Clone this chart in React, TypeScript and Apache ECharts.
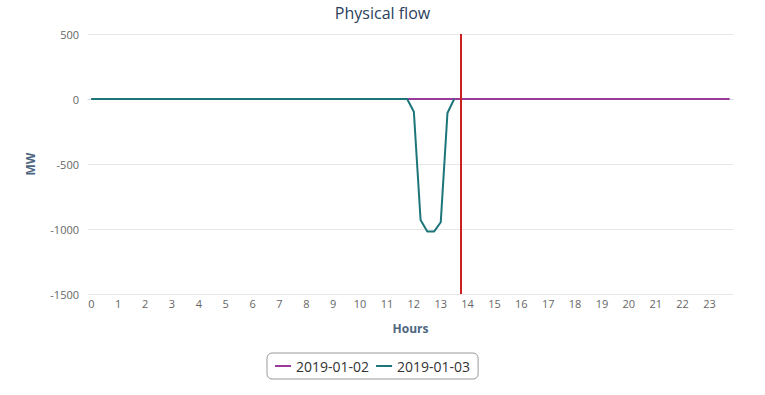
import React, { useEffect, useRef } from "react";
import * as echarts from "echarts";

const title = "Physical flow";
const yName = "MW";
const xName = "Hours";
const seriesNames = ["2019-01-02", "2019-01-03"];

// 96 quarter-hour categories: "0:00" ... "23:45"
const categories: string[] = [];
for (let h = 0; h < 24; h++) {
  for (const m of ["00", "15", "30", "45"]) categories.push(`${h}:${m}`);
}

const purpleValues: number[] = [
  0, 0, 0, 0, 0, 0, 0, 0, 0, 0, 0, 0, 0, 0, 0, 0,
  0, 0, 0, 0, 0, 0, 0, 0, 0, 0, 0, 0, 0, 0, 0, 0,
  0, 0, 0, 0, 0, 0, 0, 0, 0, 0, 0, 0, 0, 0, 0, 0,
  0, 0, 0, 0, 0, 0, 0, 0, 0, 0, 0, 0, 0, 0, 0, 0,
  0, 0, 0, 0, 0, 0, 0, 0, 0, 0, 0, 0, 0, 0, 0, 0,
  0, 0, 0, 0, 0, 0, 0, 0, 0, 0, 0, 0, 0, 0, 0, 0,
];

const tealValues: (number | null)[] = [
  0, 0, 0, 0, 0, 0, 0, 0, 0, 0, 0, 0, 0, 0, 0, 0,
  0, 0, 0, 0, 0, 0, 0, 0, 0, 0, 0, 0, 0, 0, 0, 0,
  0, 0, 0, 0, 0, 0, 0, 0, 0, 0, 0, 0, 0, 0, 0, 0,
  -98, -931, -1020, -1020, -948, -108, 0,
];

const currentTime = "13:45";

export default function App() {
  const ref = useRef<HTMLDivElement>(null);
  useEffect(() => {
    if (!ref.current) return;
    const chart = echarts.init(ref.current, undefined, { renderer: "svg" });
    const font = "'Open Sans', 'Noto Sans', sans-serif";
    chart.setOption({
      animation: false,
      textStyle: { fontFamily: font },
      title: {
        text: title,
        left: "center",
        top: 5,
        padding: 0,
        textStyle: { fontFamily: font, fontSize: 16, fontWeight: "normal", color: "#2b3f5c" },
      },
      grid: { left: 88, right: 32, top: 34, bottom: 101, containLabel: false },
      legend: {
        bottom: 16,
        left: 267,
        data: seriesNames,
        icon: "rect",
        itemWidth: 16,
        itemHeight: 2,
        itemGap: 7,
        borderColor: "#999",
        borderWidth: 1,
        borderRadius: 5,
        padding: [6, 8, 6, 8],
        textStyle: { fontFamily: font, fontSize: 14, color: "#333" },
      },
      xAxis: {
        type: "category",
        data: categories,
        boundaryGap: true,
        name: xName,
        nameLocation: "middle",
        nameGap: 28,
        nameTextStyle: { fontFamily: font, fontSize: 12, fontWeight: "bold", color: "#4d6680" },
        axisLine: { lineStyle: { color: "#ccd6eb" } },
        axisTick: { show: false },
        axisLabel: {
          interval: 3,
          color: "#666",
          fontSize: 11,
          margin: 4,
          formatter: (v: string) => v.split(":")[0],
        },
        splitLine: { show: false },
      },
      yAxis: {
        type: "value",
        min: -1500,
        max: 500,
        interval: 500,
        name: yName,
        nameLocation: "middle",
        nameGap: 52,
        nameTextStyle: { fontFamily: font, fontSize: 12, fontWeight: "bold", color: "#4d6680" },
        axisLine: { show: false },
        axisTick: { show: false },
        axisLabel: { color: "#666", fontSize: 11, margin: 9, formatter: (v: number) => String(v) },
        splitLine: { lineStyle: { color: "#e6e6e6" } },
      },
      series: [
        {
          name: seriesNames[0],
          type: "line",
          data: purpleValues,
          symbol: "none",
          lineStyle: { color: "#9b3a9b", width: 2 },
          itemStyle: { color: "#9b3a9b" },
          z: 2,
        },
        {
          name: seriesNames[1],
          type: "line",
          data: tealValues,
          symbol: "none",
          lineStyle: { color: "#1c7579", width: 2 },
          itemStyle: { color: "#1c7579" },
          z: 3,
          markLine: {
            silent: true,
            symbol: "none",
            label: { show: false },
            lineStyle: { color: "#cc1f1f", width: 2, type: "solid" },
            data: [{ xAxis: currentTime }],
          },
        },
      ],
    });
    return () => chart.dispose();
  }, []);
  return (
    <div
      ref={ref}
      style={{ position: "absolute", left: 0, top: 0, width: 765, height: 395 }}
    />
  );
}
